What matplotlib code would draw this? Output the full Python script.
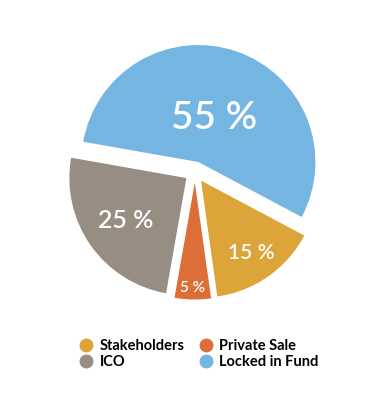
import numpy as np
import matplotlib.pyplot as plt
from matplotlib.lines import Line2D

plt.rcParams['font.family'] = ['Lato', 'DejaVu Sans']

labels = ['Stakeholders', 'Private Sale', 'ICO', 'Locked in Fund']
shares = [15, 5, 25, 55]
colors = ['#DDA43A', '#DE6E37', '#978D83', '#75B5E1']
explode = [0.09, 0.09, 0.09, 0.09]
label_dist = [0.75, 0.9, 0.63, 0.4]
label_size = [15, 11, 18, 28]

fig = plt.figure(figsize=(3.65, 4.0), dpi=100)
# axes box in pixels: center (195, 228 from bottom), 1 unit = 117 px
W = 327.6
ax = fig.add_axes([(195 - W / 2) / 365, (228 - W / 2) / 400, W / 365, W / 400])

wedges, _ = ax.pie(shares, colors=colors, explode=explode, startangle=-28,
                   counterclock=False, radius=1.0)
ax.set_xlim(-1.4, 1.4)
ax.set_ylim(-1.4, 1.4)
ax.axis('off')

for w, s, d, fs in zip(wedges, shares, label_dist, label_size):
    ang = np.deg2rad((w.theta1 + w.theta2) / 2)
    cx, cy = w.center
    ax.text(cx + d * w.r * np.cos(ang), cy + d * w.r * np.sin(ang), f'{s} %',
            color='white', fontsize=fs, fontweight='semibold',
            ha='center', va='center')

# legend fills column by column
order = [0, 2, 1, 3]
handles = [Line2D([], [], marker='o', linestyle='none', markersize=9,
                  markerfacecolor=colors[i], markeredgecolor=colors[i]) for i in order]
fig.legend(handles, [labels[i] for i in order], ncol=2, loc='center',
           bbox_to_anchor=(0.545, 0.115), frameon=False,
           prop={'weight': 'bold', 'size': 10.5},
           handletextpad=0.4, columnspacing=1.0, labelspacing=0.1,
           handlelength=1.0)

fig.savefig('out.png', dpi=100)
